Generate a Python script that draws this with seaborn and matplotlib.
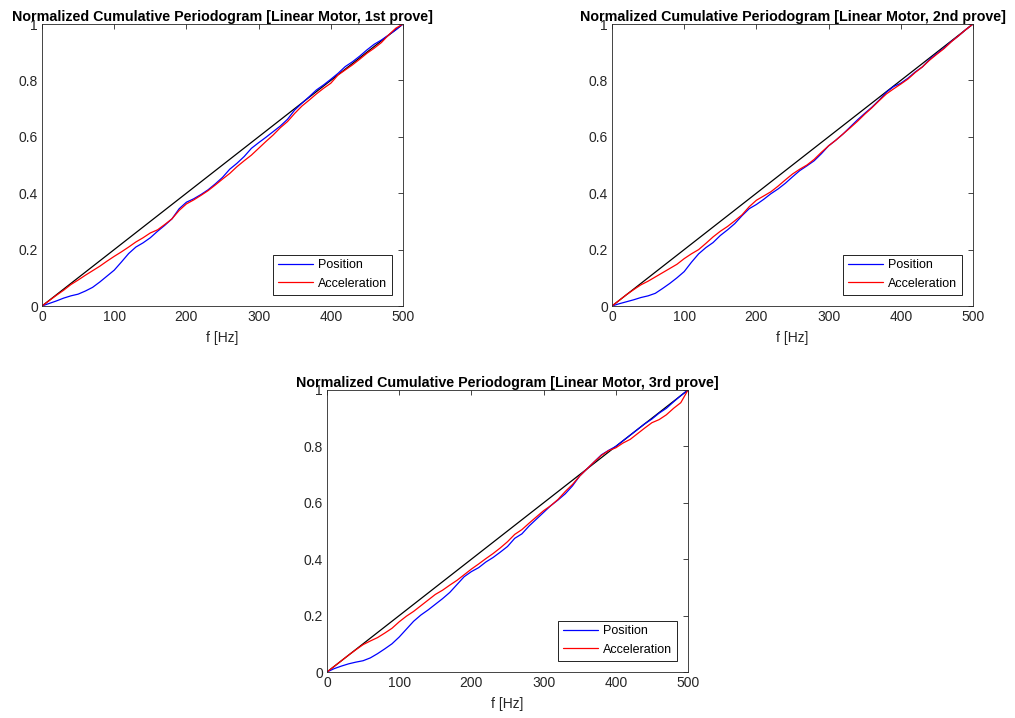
import numpy as np
import pandas as pd
import matplotlib
matplotlib.use("Agg")
import matplotlib.pyplot as plt
from matplotlib.ticker import FuncFormatter, MultipleLocator
import seaborn as sns

# Frequency grid [Hz]
freq = np.arange(0, 510, 10)

# Normalized cumulative periodograms, 1st prove
pos_1 = [0.000, 0.009, 0.018, 0.028, 0.036, 0.042, 0.053, 0.066, 0.085, 0.106,
         0.127, 0.156, 0.186, 0.209, 0.224, 0.242, 0.265, 0.286, 0.309, 0.345,
         0.368, 0.380, 0.395, 0.412, 0.433, 0.456, 0.485, 0.506, 0.530, 0.559,
         0.579, 0.598, 0.618, 0.638, 0.662, 0.695, 0.719, 0.742, 0.766, 0.784,
         0.804, 0.825, 0.849, 0.866, 0.886, 0.908, 0.928, 0.943, 0.961, 0.979,
         1.000]
acc_1 = [0.000, 0.019, 0.038, 0.056, 0.076, 0.092, 0.109, 0.125, 0.141, 0.159,
         0.176, 0.192, 0.209, 0.227, 0.242, 0.259, 0.270, 0.289, 0.309, 0.339,
         0.362, 0.376, 0.392, 0.409, 0.429, 0.450, 0.470, 0.494, 0.515, 0.535,
         0.559, 0.583, 0.606, 0.632, 0.654, 0.683, 0.709, 0.730, 0.752, 0.772,
         0.790, 0.819, 0.837, 0.855, 0.875, 0.896, 0.914, 0.934, 0.961, 0.985,
         1.000]

# 2nd prove
pos_2 = [0.000, 0.008, 0.015, 0.022, 0.030, 0.036, 0.045, 0.062, 0.080, 0.100,
         0.122, 0.155, 0.185, 0.207, 0.225, 0.250, 0.270, 0.292, 0.320, 0.345,
         0.360, 0.378, 0.398, 0.415, 0.435, 0.458, 0.480, 0.497, 0.515, 0.540,
         0.568, 0.588, 0.610, 0.635, 0.660, 0.683, 0.705, 0.730, 0.758, 0.778,
         0.790, 0.808, 0.830, 0.848, 0.875, 0.895, 0.915, 0.938, 0.958, 0.980,
         1.000]
acc_2 = [0.000, 0.020, 0.040, 0.058, 0.075, 0.088, 0.103, 0.118, 0.133, 0.148,
         0.168, 0.185, 0.200, 0.222, 0.245, 0.265, 0.282, 0.302, 0.323, 0.352,
         0.375, 0.390, 0.405, 0.425, 0.447, 0.468, 0.485, 0.500, 0.520, 0.545,
         0.568, 0.588, 0.610, 0.632, 0.655, 0.680, 0.703, 0.728, 0.752, 0.770,
         0.787, 0.805, 0.828, 0.848, 0.872, 0.893, 0.913, 0.937, 0.958, 0.980,
         1.000]

# 3rd prove
pos_3 = [0.000, 0.012, 0.021, 0.029, 0.035, 0.040, 0.050, 0.065, 0.082, 0.100,
         0.124, 0.152, 0.180, 0.202, 0.220, 0.240, 0.260, 0.282, 0.310, 0.338,
         0.356, 0.370, 0.390, 0.406, 0.425, 0.445, 0.474, 0.490, 0.518, 0.542,
         0.566, 0.590, 0.610, 0.632, 0.660, 0.695, 0.720, 0.745, 0.770, 0.786,
         0.800, 0.820, 0.840, 0.860, 0.880, 0.897, 0.918, 0.935, 0.958, 0.980,
         1.000]
acc_3 = [0.000, 0.020, 0.040, 0.060, 0.079, 0.097, 0.110, 0.122, 0.138, 0.155,
         0.178, 0.198, 0.215, 0.235, 0.255, 0.275, 0.290, 0.308, 0.325, 0.345,
         0.365, 0.383, 0.402, 0.420, 0.440, 0.462, 0.488, 0.505, 0.528, 0.550,
         0.572, 0.590, 0.612, 0.640, 0.665, 0.695, 0.720, 0.745, 0.768, 0.785,
         0.795, 0.812, 0.825, 0.845, 0.865, 0.884, 0.895, 0.912, 0.935, 0.955,
         1.000]

titles = ["Normalized Cumulative Periodogram [Linear Motor, 1st prove]",
          "Normalized Cumulative Periodogram [Linear Motor, 2nd prove]",
          "Normalized Cumulative Periodogram [Linear Motor, 3rd prove]"]
series_labels = ["Position", "Acceleration"]
x_label = "f [Hz]"

sns.set_style("white")
plt.rcParams["font.family"] = ["Liberation Sans", "DejaVu Sans"]

AX_GRAY = (0.15, 0.15, 0.15)

fig = plt.figure(figsize=(10.15, 7.18), dpi=100)
W, H = 1015.0, 718.0
boxes = [
    (42 / W, 1 - 306 / H, 361 / W, 282 / H),
    (612 / W, 1 - 306 / H, 361 / W, 282 / H),
    (327 / W, 1 - 672 / H, 361 / W, 282 / H),
]
data = [(pos_1, acc_1), (pos_2, acc_2), (pos_3, acc_3)]


def fmt(v, _):
    return f"{v:g}"


for box, (pos, acc), title in zip(boxes, data, titles):
    ax = fig.add_axes(box)
    df = pd.DataFrame({"f": freq, "pos": pos, "acc": acc,
                       "ideal": freq / freq.max()})
    # white-noise reference line
    sns.lineplot(data=df, x="f", y="ideal", color="black", lw=0.9, ax=ax,
                 legend=False)
    sns.lineplot(data=df, x="f", y="pos", color=(0, 0, 1), lw=0.9, ax=ax,
                 label=series_labels[0])
    sns.lineplot(data=df, x="f", y="acc", color=(1, 0, 0), lw=0.9, ax=ax,
                 label=series_labels[1])

    ax.set_xlim(0, 500)
    ax.set_ylim(0, 1)
    ax.xaxis.set_major_locator(MultipleLocator(100))
    ax.yaxis.set_major_locator(MultipleLocator(0.2))
    ax.yaxis.set_major_formatter(FuncFormatter(fmt))
    ax.tick_params(direction="in", length=3.5, width=0.6, top=True,
                   right=True, labelsize=10, colors=AX_GRAY, pad=3)
    for sp in ax.spines.values():
        sp.set_color(AX_GRAY)
        sp.set_linewidth(0.6)
    ax.set_xlabel(x_label, fontsize=10, color=AX_GRAY, labelpad=5)
    ax.set_ylabel("")
    ax.set_title(title, fontsize=10.3, fontweight="bold", pad=2,
                 color="black")

    leg = ax.legend(loc="lower right", fontsize=9, frameon=True,
                    fancybox=False, framealpha=1, edgecolor="black",
                    handlelength=2.8, handletextpad=0.4, borderpad=0.4,
                    labelspacing=0.5, borderaxespad=0.9)
    leg.get_frame().set_linewidth(0.6)
    for txt in leg.get_texts():
        txt.set_color("black")

fig.savefig("out.png", dpi=100, facecolor="white")
